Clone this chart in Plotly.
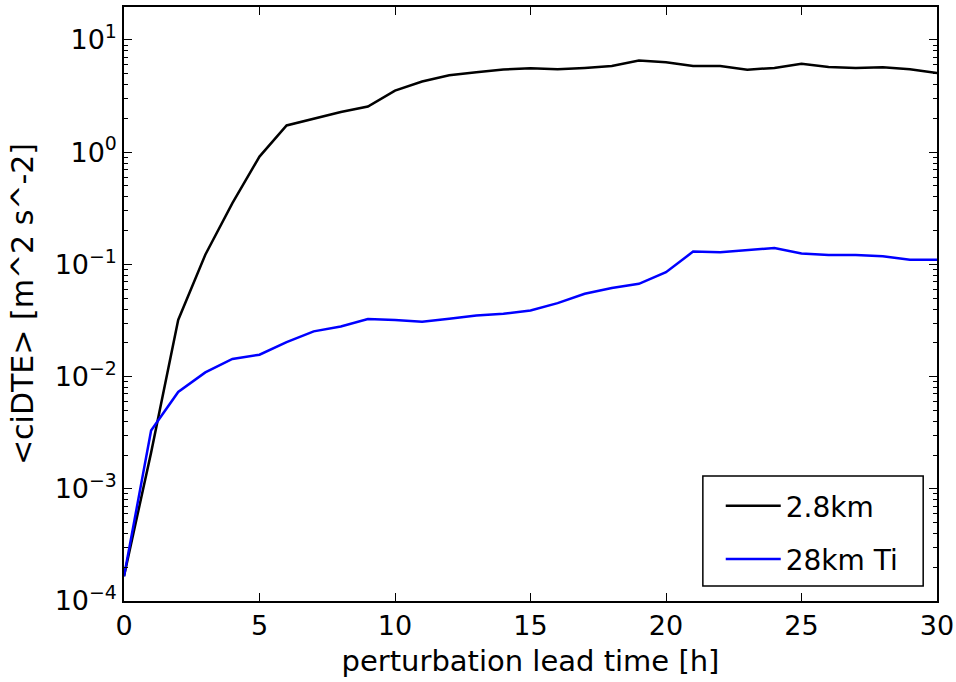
import plotly.graph_objects as go

lead_time = list(range(0, 31))
dte_2p8km = [1.66e-4, 2.1e-3, 0.032, 0.122, 0.351, 0.914, 1.73, 1.98, 2.28, 2.55,
             3.54, 4.26, 4.85, 5.15, 5.45, 5.60, 5.48, 5.64, 5.87, 6.55,
             6.33, 5.87, 5.87, 5.44, 5.64, 6.15, 5.75, 5.64, 5.72, 5.48, 5.08]
dte_28km_ti = [1.66e-4, 3.3e-3, 7.3e-3, 0.0109, 0.01435, 0.01567, 0.0203, 0.0253, 0.028, 0.0326,
               0.0319, 0.0308, 0.0328, 0.0351, 0.0363, 0.0389, 0.0452, 0.0547, 0.0615, 0.0671,
               0.0853, 0.130, 0.128, 0.133, 0.140, 0.125, 0.121, 0.121, 0.118, 0.110, 0.110]

series_names = ["2.8km", "28km Ti"]
series_colors = ["#000000", "#0000ff"]

x_ticks = [0, 5, 10, 15, 20, 25, 30]
y_ticks = [1e-4, 1e-3, 1e-2, 1e-1, 1e0, 1e1]
y_ticklabels = ["10<sup>−4</sup>", "10<sup>−3</sup>", "10<sup>−2</sup>",
                "10<sup>−1</sup>", "10<sup>0</sup>", "10<sup>1</sup>"]
y_minor = [m * 10 ** e for e in range(-4, 2) for m in range(2, 10)]

FONT = "DejaVu Sans"

fig = go.Figure()
for i, (name, vals) in enumerate(zip(series_names, [dte_2p8km, dte_28km_ti])):
    fig.add_trace(go.Scatter(
        x=lead_time, y=vals, mode="lines", name=name,
        legendgroup=name,
        line=dict(color=series_colors[i], width=2.5),
    ))

axis_common = dict(
    showline=True, linecolor="black", linewidth=1.5, mirror="allticks",
    ticks="inside", ticklen=8, tickwidth=1, tickcolor="black",
    showgrid=False, zeroline=False, automargin=False,
    tickfont=dict(family=FONT, size=27, color="black"),
)

fig.update_xaxes(
    **axis_common,
    range=[0, 30], tickvals=x_ticks,
    title=dict(text="perturbation lead time [h]", font=dict(family=FONT, size=29, color="black"), standoff=11),
)
fig.update_yaxes(
    **axis_common,
    type="log", range=[-4, 1.294],
    tickvals=y_ticks, ticktext=y_ticklabels,
    minor=dict(ticks="inside", ticklen=4, tickwidth=1, tickcolor="black", tickvals=y_minor, showgrid=False),
    title=dict(text="&lt;ciDTE&gt; [m^2 s^-2]", font=dict(family=FONT, size=30, color="black"), standoff=12),
)

# legend frame
fig.add_shape(type="rect", xref="paper", yref="paper",
              x0=0.712, x1=0.983, y0=0.0253, y1=0.2104,
              line=dict(color="black", width=1.5), fillcolor="white", layer="below")

fig.update_layout(
    width=956, height=682,
    margin=dict(l=124, r=19, t=7, b=81),
    paper_bgcolor="white", plot_bgcolor="white",
    font=dict(family=FONT, color="black"),
    legend=dict(
        x=0.734, xanchor="left", y=0.0287, yanchor="bottom",
        borderwidth=0, bgcolor="rgba(0,0,0,0)",
        font=dict(family=FONT, size=28, color="black"),
        tracegroupgap=14, itemwidth=55,
    ),
)

page_fix = (
    "document.documentElement.style.margin='0';"
    "document.documentElement.style.overflow='hidden';"
    "document.body.style.margin='0';"
    "document.body.style.overflow='hidden';"
    "var gd=document.querySelector('.plotly-graph-div');"
    "if(gd&&gd.parentElement){gd.parentElement.style.height='682px';"
    "gd.parentElement.style.width='956px';gd.parentElement.style.overflow='hidden';}"
)

fig.write_html("out.html", config={"displayModeBar": False}, post_script=page_fix)
